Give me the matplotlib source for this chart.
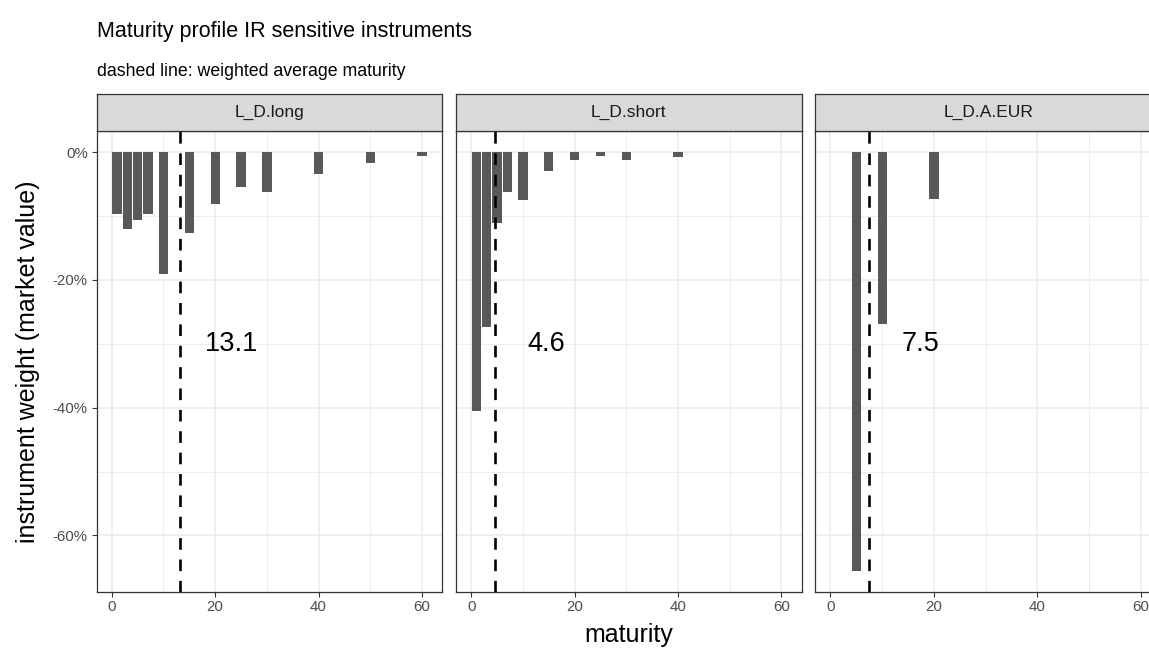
import matplotlib
matplotlib.use('Agg')
import matplotlib.pyplot as plt
from matplotlib.ticker import FuncFormatter, MultipleLocator

plt.rcParams['font.family'] = ['Liberation Sans', 'DejaVu Sans']

# data (weights in %)
panels = ['L_D.long', 'L_D.short', 'L_D.A.EUR']
maturity_long = [1, 3, 5, 7, 10, 15, 20, 25, 30, 40, 50, 60]
weight_long = [-9.7, -12.0, -10.7, -9.7, -19.1, -12.7, -8.2, -5.4, -6.3, -3.5, -1.7, -0.6]
maturity_short = [1, 3, 5, 7, 10, 15, 20, 25, 30, 40]
weight_short = [-40.5, -27.4, -11.1, -6.2, -7.45, -3.0, -1.3, -0.6, -1.3, -0.7]
maturity_eur = [5, 10, 20]
weight_eur = [-65.5, -26.9, -7.35]
avg_maturity = [13.1, 4.6, 7.5]

maturities = [maturity_long, maturity_short, maturity_eur]
weights = [weight_long, weight_short, weight_eur]

W, H = 1149, 648
fig = plt.figure(figsize=(W / 100, H / 100), dpi=100)

panel_left = [96.6, 456, 815.3]
panel_w = 345.7
panel_top = 131
panel_bottom = 591.7
strip_top = 94

grid_col = '#EBEBEB'
edge_col = '#333333'

for i, name in enumerate(panels):
    ax = fig.add_axes([panel_left[i] / W, (H - panel_bottom) / H,
                       panel_w / W, (panel_bottom - panel_top) / H])
    ax.bar(maturities[i], [w / 100 for w in weights[i]], width=1.8, color='#595959', zorder=3)
    ax.axvline(avg_maturity[i], color='black', lw=1.9, linestyle=(0, (4.4, 3.7)), zorder=4)
    ax.text(avg_maturity[i] + 10, -0.3, f'{avg_maturity[i]:.1f}', fontsize=19.5,
            ha='center', va='center', zorder=5)

    ax.set_xlim(-2.94, 63.94)
    ax.set_ylim(-0.688, 0.033)
    ax.xaxis.set_major_locator(MultipleLocator(20))
    ax.xaxis.set_minor_locator(MultipleLocator(10))
    ax.yaxis.set_major_locator(MultipleLocator(0.2))
    ax.yaxis.set_minor_locator(MultipleLocator(0.1))
    ax.grid(which='major', color=grid_col, lw=1.1, zorder=0)
    ax.grid(which='minor', color=grid_col, lw=0.6, zorder=0)
    ax.set_axisbelow(True)
    ax.tick_params(which='minor', length=0)
    ax.tick_params(which='major', length=3.3, width=0.8, color=edge_col,
                   labelcolor='#4D4D4D', labelsize=10.8, pad=3)
    ax.yaxis.set_major_formatter(FuncFormatter(lambda v, p: f'{round(v * 100):d}%'.replace('-0%', '0%')))
    if i > 0:
        ax.tick_params(axis='y', which='both', left=False, labelleft=False)
    for s in ax.spines.values():
        s.set_color(edge_col)
        s.set_linewidth(0.9)

    # facet strip
    sax = fig.add_axes([panel_left[i] / W, (H - panel_top) / H,
                        panel_w / W, (panel_top - strip_top) / H])
    sax.set_facecolor('#D9D9D9')
    sax.set_xticks([])
    sax.set_yticks([])
    for s in sax.spines.values():
        s.set_color(edge_col)
        s.set_linewidth(0.9)
    sax.text(0.5, 0.5, name, transform=sax.transAxes, ha='center', va='center',
             fontsize=12.5, color='#1A1A1A')

fig.text(97 / W, 1 - 37 / H, 'Maturity profile IR sensitive instruments',
         fontsize=15.5, ha='left', va='baseline')
fig.text(97 / W, 1 - 76 / H, 'dashed line: weighted average maturity',
         fontsize=12.8, ha='left', va='baseline')
fig.text(628.6 / W, 1 - 642 / H, 'maturity', fontsize=18, ha='center', va='baseline')
fig.text(28 / W, 1 - (panel_top + panel_bottom) / 2 / H, 'instrument weight (market value)',
         fontsize=18, rotation=90, ha='center', va='center')

fig.savefig('out.png', dpi=100)
